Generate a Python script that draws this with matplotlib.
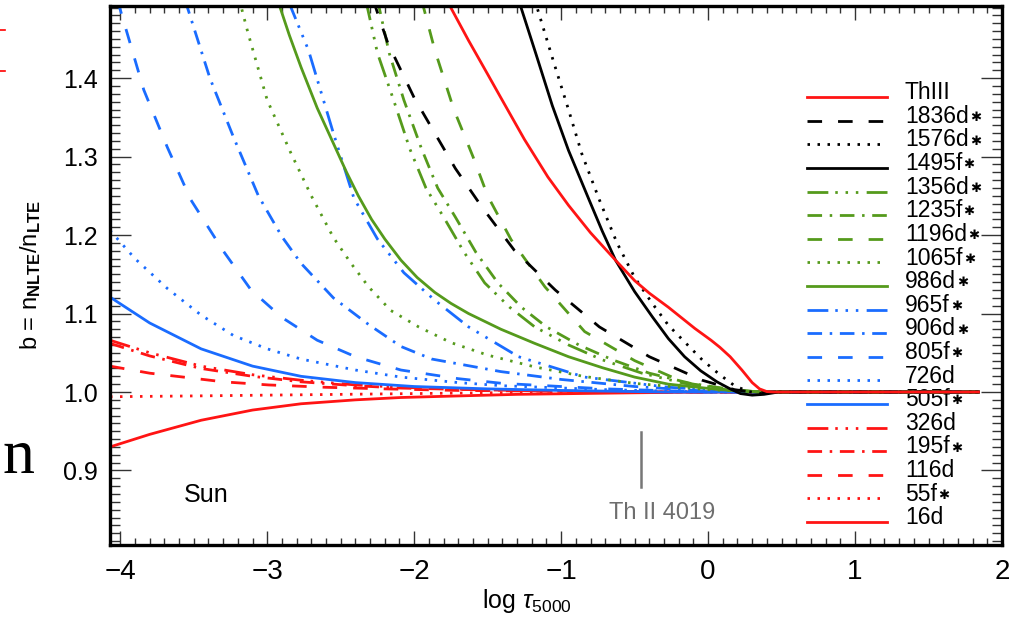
import matplotlib.pyplot as plt
from matplotlib.ticker import MultipleLocator

plt.rcParams['font.family'] = ['Liberation Sans', 'DejaVu Sans']
plt.rcParams['mathtext.fontset'] = 'custom'
plt.rcParams['mathtext.rm'] = 'Liberation Sans'
plt.rcParams['mathtext.it'] = 'Liberation Sans:italic'
plt.rcParams['mathtext.bf'] = 'Liberation Sans:bold'
plt.rcParams['lines.scale_dashes'] = False

# departure coefficients b = n_NLTE / n_LTE of Th II levels, solar model
tau_thiii = [-1.78, -1.63, -1.50, -1.41, -1.25, -1.09, -0.95, -0.80, -0.63, -0.50, -0.40, -0.27, -0.09, 0.02, 0.08, 0.15, 0.23, 0.30, 0.35, 0.40, 0.45, 1.84]
b_thiii = [1.50, 1.448, 1.405, 1.375, 1.322, 1.274, 1.238, 1.203, 1.168, 1.142, 1.126, 1.108, 1.081, 1.066, 1.057, 1.045, 1.028, 1.012, 1.004, 1.0005, 1.0, 1.0]

tau_1836 = [-2.28, -2.18, -2.0, -1.86, -1.72, -1.54, -1.32, -1.04, -0.74, -0.40, -0.04, 0.18, 0.33, 0.45, 1.84]
b_1836 = [1.50, 1.445, 1.375, 1.33, 1.285, 1.236, 1.181, 1.130, 1.083, 1.045, 1.015, 1.003, 0.999, 1.0, 1.0]

tau_1576 = [-1.18, -1.05, -0.95, -0.86, -0.74, -0.62, -0.50, -0.38, -0.27, -0.15, -0.04, 0.08, 0.18, 0.27, 0.35, 0.45, 1.84]
b_1576 = [1.50, 1.42, 1.36, 1.304, 1.245, 1.19, 1.146, 1.113, 1.085, 1.062, 1.041, 1.022, 1.008, 1.001, 0.998, 1.0, 1.0]

tau_1495 = [-1.29, -1.17, -1.06, -0.95, -0.81, -0.72, -0.63, -0.50, -0.38, -0.27, -0.16, -0.05, 0.06, 0.15, 0.22, 0.30, 0.38, 0.48, 1.84]
b_1495 = [1.50, 1.43, 1.365, 1.308, 1.245, 1.205, 1.168, 1.128, 1.096, 1.068, 1.045, 1.027, 1.013, 1.004, 0.998, 0.996, 0.997, 1.0, 1.0]

tau_1356 = [-2.33, -2.25, -2.14, -2.03, -1.92, -1.80, -1.66, -1.52, -1.35, -1.18, -0.95, -0.72, -0.45, -0.16, 0.15, 0.35, 1.84]
b_1356 = [1.50, 1.432, 1.372, 1.31, 1.26, 1.223, 1.178, 1.139, 1.108, 1.083, 1.060, 1.041, 1.024, 1.011, 1.003, 1.0, 1.0]

tau_1235 = [-2.25, -2.17, -2.07, -1.95, -1.84, -1.72, -1.58, -1.43, -1.27, -1.10, -0.88, -0.65, -0.40, -0.12, 0.17, 0.35, 1.84]
b_1235 = [1.50, 1.432, 1.372, 1.31, 1.26, 1.223, 1.178, 1.139, 1.108, 1.083, 1.060, 1.041, 1.024, 1.011, 1.003, 1.0, 1.0]

tau_1196 = [-1.95, -1.86, -1.73, -1.60, -1.50, -1.34, -1.11, -0.84, -0.50, -0.16, 0.15, 0.35, 1.84]
b_1196 = [1.50, 1.436, 1.36, 1.30, 1.25, 1.194, 1.134, 1.077, 1.040, 1.012, 1.002, 1.0, 1.0]

tau_1065 = [-3.19, -3.13, -3.0, -2.84, -2.70, -2.55, -2.43, -2.31, -2.16, -1.97, -1.75, -1.5, -1.18, -0.85, -0.5, 0.0, 0.35, 1.84]
b_1065 = [1.50, 1.457, 1.372, 1.305, 1.25, 1.197, 1.164, 1.134, 1.104, 1.083, 1.063, 1.047, 1.032, 1.020, 1.011, 1.003, 1.0, 1.0]

tau_986 = [-2.93, -2.85, -2.77, -2.66, -2.55, -2.46, -2.38, -2.29, -2.20, -2.09, -1.98, -1.86, -1.75, -1.63, -1.41, -1.18, -0.95, -0.72, -0.5, -0.27, 0.08, 0.35, 1.84]
b_986 = [1.50, 1.455, 1.414, 1.362, 1.317, 1.280, 1.250, 1.220, 1.195, 1.168, 1.146, 1.127, 1.113, 1.100, 1.080, 1.062, 1.045, 1.031, 1.019, 1.010, 1.003, 1.0, 1.0]

tau_965 = [-2.86, -2.72, -2.55, -2.41, -2.25, -2.07, -1.86, -1.63, -1.29, -0.84, -0.27, 0.3, 1.84]
b_965 = [1.50, 1.436, 1.33, 1.247, 1.195, 1.152, 1.117, 1.083, 1.045, 1.019, 1.006, 1.0, 1.0]

tau_906 = [-3.56, -3.39, -3.23, -3.06, -2.90, -2.77, -2.55, -2.31, -2.09, -1.88, -1.41, -1.0, -0.5, 0.0, 0.35, 1.84]
b_906 = [1.50, 1.40, 1.325, 1.250, 1.198, 1.164, 1.120, 1.086, 1.058, 1.042, 1.026, 1.016, 1.007, 1.001, 1.0, 1.0]

tau_805 = [-4.02, -3.84, -3.68, -3.52, -3.3, -3.11, -2.9, -2.66, -2.4, -2.09, -1.7, -1.4, -0.7, 0.0, 1.84]
b_805 = [1.50, 1.385, 1.312, 1.245, 1.18, 1.13, 1.095, 1.066, 1.045, 1.028, 1.017, 1.011, 1.004, 1.0, 1.0]

tau_726 = [-4.07, -3.9, -3.68, -3.45, -3.23, -3.0, -2.77, -2.4, -2.09, -1.7, -1.4, -0.7, 0.0, 1.84]
b_726 = [1.206, 1.170, 1.132, 1.098, 1.072, 1.055, 1.042, 1.028, 1.019, 1.012, 1.008, 1.003, 1.0, 1.0]

tau_505 = [-4.07, -3.8, -3.45, -3.1, -2.77, -2.4, -2.0, -1.5, -1.0, -0.3, 1.84]
b_505 = [1.121, 1.088, 1.055, 1.033, 1.020, 1.012, 1.007, 1.004, 1.002, 1.0, 1.0]

tau_326 = [-4.07, -3.8, -3.45, -3.1, -2.77, -2.4, -2.09, -1.6, -1.0, -0.3, 1.84]
b_326 = [1.066, 1.050, 1.033, 1.022, 1.015, 1.009, 1.006, 1.003, 1.001, 1.0, 1.0]

tau_195 = [-4.07, -3.8, -3.45, -3.1, -2.77, -2.4, -2.09, -1.6, -1.0, -0.3, 1.84]
b_195 = [1.062, 1.046, 1.030, 1.020, 1.013, 1.008, 1.005, 1.003, 1.001, 1.0, 1.0]

tau_116 = [-4.07, -3.8, -3.57, -3.3, -2.99, -2.6, -2.2, -1.7, -1.0, -0.3, 1.84]
b_116 = [1.033, 1.024, 1.019, 1.013, 1.009, 1.006, 1.004, 1.002, 1.001, 1.0, 1.0]

tau_55 = [-4.07, -3.5, -3.0, -2.5, -2.0, -1.5, -1.0, -0.5, 0.0, 1.84]
b_55 = [0.994, 0.995, 0.996, 0.997, 0.998, 0.999, 0.9995, 1.0, 1.0, 1.0]

tau_16 = [-4.07, -3.8, -3.45, -3.1, -2.77, -2.4, -2.09, -1.7, -1.3, -0.9, -0.5, 0.0, 1.84]
b_16 = [0.930, 0.946, 0.964, 0.977, 0.985, 0.990, 0.993, 0.995, 0.997, 0.998, 0.999, 1.0, 1.0]

# level label and whether it carries a star
level_names = ['ThIII', '1836d', '1576d', '1495f', '1356d', '1235f', '1196d',
               '1065f', '986d', '965f', '906d', '805f', '726d', '505f',
               '326d', '195f', '116d', '55f', '16d']
level_star = [False, True, True, True, True, True, True, True, True, True, True,
              True, False, True, False, True, False, True, False]
level_tau = [tau_thiii, tau_1836, tau_1576, tau_1495, tau_1356, tau_1235, tau_1196,
             tau_1065, tau_986, tau_965, tau_906, tau_805, tau_726, tau_505,
             tau_326, tau_195, tau_116, tau_55, tau_16]
level_b = [b_thiii, b_1836, b_1576, b_1495, b_1356, b_1235, b_1196,
           b_1065, b_986, b_965, b_906, b_805, b_726, b_505,
           b_326, b_195, b_116, b_55, b_16]

RED = '#ff1414'
BLUE = '#1a6cff'
GREEN = '#559a1c'

solid = '-'
dashed = (0, (10.5, 11.5))
dotted = (0, (1.8, 5.4))
dashdot = (0, (10.5, 5.5, 1.8, 5.5))
dash3dot = (0, (15, 5, 1.8, 5.6, 1.8, 5.6, 1.8, 6))

colors = [RED, 'black', 'black', 'black', GREEN, GREEN, GREEN, GREEN, GREEN,
          BLUE, BLUE, BLUE, BLUE, BLUE, RED, RED, RED, RED, RED]
styles = [solid, dashed, dotted, solid, dash3dot, dashdot, dashed, dotted, solid,
          dash3dot, dashdot, dashed, dotted, solid, dash3dot, dashdot, dashed, dotted, solid]

fig = plt.figure(figsize=(10.11, 6.2), dpi=100)
ax = fig.add_axes([110 / 1011, 75 / 620, 892 / 1011, 539 / 620])

# hand-made legend, lines first so the curves sit on top
for i, (name, star, c, ls) in enumerate(zip(level_names, level_star, colors, styles)):
    y = 0.831 - i * 0.0438
    ax.plot([0.781, 0.871], [y, y], transform=ax.transAxes, color=c, ls=ls,
            lw=2.0, zorder=1)
    txt = ax.text(0.891, y + 0.008, name, transform=ax.transAxes, fontsize=16.5,
                  va='center', ha='left', zorder=1)
    if star:
        ax.annotate('✱', xy=(1, 0.45), xycoords=txt, xytext=(1, 0),
                    textcoords='offset points', fontsize=9.5, va='center',
                    ha='left', family='DejaVu Sans', zorder=1)

for tau, b, c, ls in reversed(list(zip(level_tau, level_b, colors, styles))):
    ax.plot(tau, b, color=c, ls=ls, lw=2.0, zorder=2)

ax.plot([-0.457, -0.457], [0.879, 0.949], color='#777777', lw=1.8)
ax.text(-0.31, 0.846, 'Th II 4019', color='#6e6e6e', fontsize=17,
        ha='center', va='center')
ax.text(-3.57, 0.869, 'Sun', fontsize=18, ha='left', va='center')

ax.set_xlim(-4.07, 2.0)
ax.set_ylim(0.805, 1.492)
ax.xaxis.set_major_locator(MultipleLocator(1))
ax.xaxis.set_minor_locator(MultipleLocator(0.1))
ax.yaxis.set_major_locator(MultipleLocator(0.1))
ax.yaxis.set_minor_locator(MultipleLocator(0.01))
ax.set_yticks([0.9, 1.0, 1.1, 1.2, 1.3, 1.4])
ax.set_yticklabels(['0.9', '1.0', '1.1', '1.2', '1.3', '1.4'])
ax.set_xticks([-4, -3, -2, -1, 0, 1, 2])
ax.set_xticklabels(['−4', '−3', '−2', '−1', '0', '1', '2'])

ax.tick_params(which='both', direction='in', top=True, right=True,
               color='#333333', width=1.0)
ax.xaxis.set_tick_params(which='major', length=10, labelsize=20, pad=10)
ax.xaxis.set_tick_params(which='minor', length=5)
ax.yaxis.set_tick_params(which='major', length=15, labelsize=18, pad=9)
ax.yaxis.set_tick_params(which='minor', length=7)
for side in ax.spines.values():
    side.set_linewidth(2.4)

ax.set_xlabel(r'log $\tau_{\rm 5000}$', fontsize=18)
ax.xaxis.set_label_coords(0.4675, -0.078)
ax.set_ylabel(r'b = n$_{\mathbf{NLTE}}$/n$_{\mathbf{LTE}}$', fontsize=17, labelpad=14)

# bits of the slide around the plot
fig.add_artist(plt.Line2D([0, 5 / 1011], [1 - 30 / 620, 1 - 30 / 620], color='red', lw=1.2))
fig.add_artist(plt.Line2D([0, 5 / 1011], [1 - 71 / 620, 1 - 71 / 620], color='red', lw=1.2))
fig.text(0.002, 1 - 458 / 620, 'n', family=['Liberation Serif', 'DejaVu Serif'],
         fontsize=46, va='center', ha='left')

fig.savefig('out.png', dpi=100)
